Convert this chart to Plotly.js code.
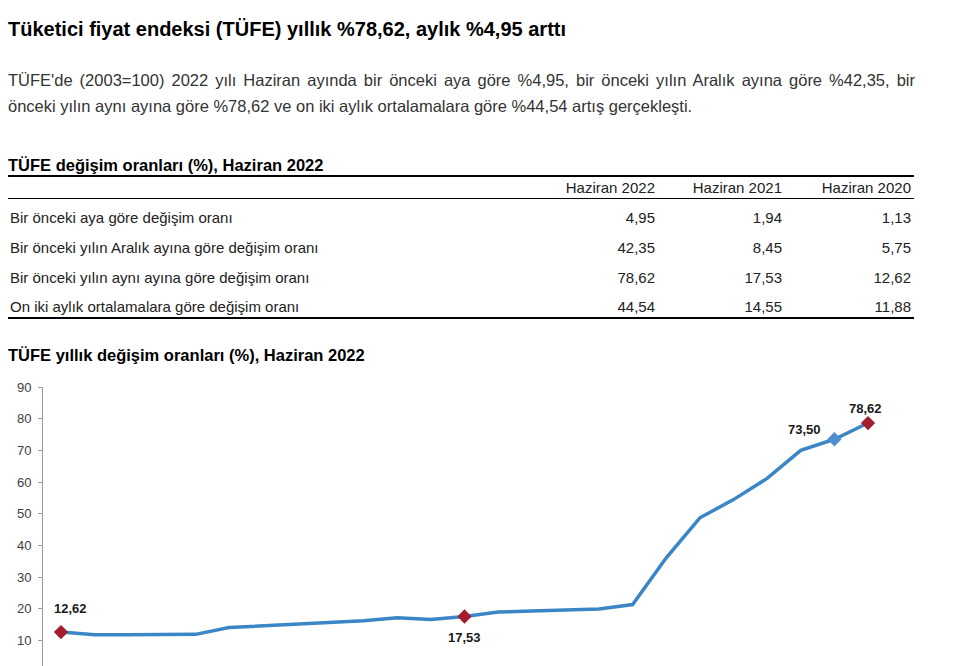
<!DOCTYPE html>
<html>
<head>
<meta charset="utf-8">
<script src="https://cdn.plot.ly/plotly-3.0.1.min.js"></script>
<style>
  html, body { margin:0; padding:0; background:#fff; width:953px; height:666px; overflow:hidden; font-family: Arial, "Liberation Sans", sans-serif; }
  #page { position:relative; width:953px; height:666px; }
  #h1 { position:absolute; left:8px; top:18px; font-size:20px; font-weight:bold; color:#000; margin:0; white-space:nowrap; }
  #para { position:absolute; left:8px; top:67px; width:907px; font-size:16.5px; line-height:26px; color:#333; text-align:justify; text-align-last:left; }
  #tblTitle { position:absolute; left:8px; top:156px; font-size:16.5px; font-weight:bold; color:#000; white-space:nowrap; }
  #tbl { position:absolute; left:8px; top:175px; width:906px; border-collapse:collapse; font-size:15px; color:#222; }
  #tbl th { font-weight:normal; text-align:right; height:21px; padding:0 3px 0 0; border-top:2px solid #000; border-bottom:1px solid #000; }
  #tbl td { height:24px; padding:6px 3px 0 2px; text-align:right; vertical-align:middle; }
  #tbl td.lbl { text-align:left; }
  #tbl tr.last td { border-bottom:2px solid #000; height:22px; }
  #chartTitle { position:absolute; left:8px; top:346px; font-size:16.5px; font-weight:bold; color:#000; white-space:nowrap; }
  #chart { position:absolute; left:0; top:367px; width:953px; height:340px; }
</style>
</head>
<body>
<div id="page">
  <div id="h1">Tüketici fiyat endeksi (TÜFE) yıllık %78,62, aylık %4,95 arttı</div>
  <div id="para">TÜFE'de (2003=100) 2022 yılı Haziran ayında bir önceki aya göre %4,95, bir önceki yılın Aralık ayına göre %42,35, bir önceki yılın aynı ayına göre %78,62 ve on iki aylık ortalamalara göre %44,54 artış gerçekleşti.</div>
  <div id="tblTitle">TÜFE değişim oranları (%), Haziran 2022</div>
  <table id="tbl"></table>
  <div id="chartTitle">TÜFE yıllık değişim oranları (%), Haziran 2022</div>
  <div id="chart"></div>
</div>
<script>
// ---- Table data ----
const tableColumns = ["Haziran 2022", "Haziran 2021", "Haziran 2020"];
const tableRowLabels = [
  "Bir önceki aya göre değişim oranı",
  "Bir önceki yılın Aralık ayına göre değişim oranı",
  "Bir önceki yılın aynı ayına göre değişim oranı",
  "On iki aylık ortalamalara göre değişim oranı"
];
const val2022 = ["4,95", "42,35", "78,62", "44,54"];
const val2021 = ["1,94", "8,45", "17,53", "14,55"];
const val2020 = ["1,13", "5,75", "12,62", "11,88"];

// ---- Chart data ----
const months = ["Haz.20","Tem.20","Ağu.20","Eyl.20","Eki.20","Kas.20","Ara.20",
  "Oca.21","Şub.21","Mar.21","Nis.21","May.21","Haz.21","Tem.21","Ağu.21","Eyl.21",
  "Eki.21","Kas.21","Ara.21","Oca.22","Şub.22","Mar.22","Nis.22","May.22","Haz.22"];
const annualRate = [12.62, 11.76, 11.77, 11.75, 11.89, 14.03, 14.60,
  14.97, 15.61, 16.19, 17.14, 16.59, 17.53, 18.95, 19.25, 19.58,
  19.89, 21.31, 36.08, 48.69, 54.44, 61.14, 69.97, 73.50, 78.62];
const yTicks = [10, 20, 30, 40, 50, 60, 70, 80, 90];
const redPoints = [0, 12, 24];
const bluePoints = [23];

// build table
(function(){
  const t = document.getElementById('tbl');
  let html = '<tr><th style="text-align:left"></th>';
  tableColumns.forEach(c => html += '<th>' + c + '</th>');
  html += '</tr>';
  tableRowLabels.forEach((r, i) => {
    html += '<tr' + (i === tableRowLabels.length - 1 ? ' class="last"' : '') + '><td class="lbl">' + r + '</td><td>' + val2022[i] + '</td><td>' + val2021[i] + '</td><td>' + val2020[i] + '</td></tr>';
  });
  t.innerHTML = html;
  t.querySelectorAll('tr').forEach(tr => {
    const cells = tr.children;
    cells[0].style.width = '513px';
    cells[1].style.width = '127px';
    cells[2].style.width = '122px';
  });
})();

const fmt = v => v.toFixed(2).replace('.', ',');

const traces = [
  {
    x: months, y: annualRate, type: 'scatter', mode: 'lines',
    line: { color: '#3a86c6', width: 3.5 }, hoverinfo: 'skip', showlegend: false
  },
  {
    x: redPoints.map(i => months[i]), y: redPoints.map(i => annualRate[i]),
    type: 'scatter', mode: 'markers',
    marker: { symbol: 'diamond', size: 11, color: '#a31d2f' }, showlegend: false
  },
  {
    x: bluePoints.map(i => months[i]), y: bluePoints.map(i => annualRate[i]),
    type: 'scatter', mode: 'markers',
    marker: { symbol: 'diamond', size: 11, color: '#4f8fd0' }, showlegend: false
  }
];

const labelOffsets = { 0: [10, 24], 12: [0, -21], 23: [-30, 10], 24: [-3, 15] };
const annotations = Object.keys(labelOffsets).map(k => {
  const i = +k;
  return {
    x: months[i], y: annualRate[i], xref: 'x', yref: 'y',
    text: '<b>' + fmt(annualRate[i]) + '</b>', showarrow: false,
    xshift: labelOffsets[k][0], yshift: labelOffsets[k][1],
    font: { family: 'Arial, Liberation Sans, sans-serif', size: 13, color: '#1a1a1a' }
  };
});

const layout = {
  width: 953, height: 340,
  margin: { l: 43, r: 67, t: 20, b: 35 },
  paper_bgcolor: 'rgba(0,0,0,0)', plot_bgcolor: 'rgba(0,0,0,0)',
  showlegend: false,
  xaxis: {
    type: 'category', range: [-0.535, 24.535], showgrid: false, zeroline: false,
    showline: false, showticklabels: false, ticks: ''
  },
  yaxis: {
    range: [0, 90], tickvals: yTicks, showgrid: false, zeroline: false,
    showline: true, linecolor: '#9a9a9a', linewidth: 1,
    ticks: 'outside', ticklen: 4, tickcolor: '#9a9a9a',
    tickfont: { family: 'Arial, Liberation Sans, sans-serif', size: 13, color: '#404040' },
    ticklabelstandoff: 4
  },
  annotations: annotations
};

Plotly.newPlot('chart', traces, layout, { displayModeBar: false, staticPlot: true });
</script>
</body>
</html>
